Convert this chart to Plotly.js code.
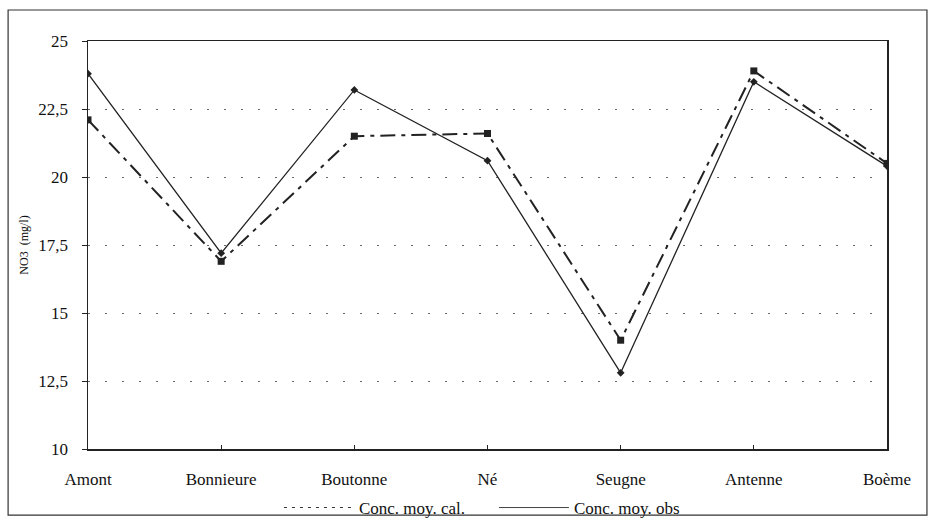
<!DOCTYPE html>
<html>
<head>
<meta charset="utf-8">
<script src="https://cdn.plot.ly/plotly-3.0.1.min.js"></script>
<style>html,body{margin:0;padding:0;background:#fff;overflow:hidden;width:930px;height:518px;}#chart{width:930px;height:540px;}</style>
</head>
<body>
<div id="chart"></div>
<script>
const categories = ["Amont", "Bonnieure", "Boutonne", "Né", "Seugne", "Antenne", "Boème"];
const concCal = [22.1, 16.9, 21.5, 21.6, 14.0, 23.9, 20.5];
const concObs = [23.8, 17.2, 23.2, 20.6, 12.8, 23.5, 20.4];
const yTicks = [10, 12.5, 15, 17.5, 20, 22.5, 25];
const seriesNames = ["Conc. moy. cal.", "Conc. moy. obs"];

const serif = "'Liberation Serif', 'Times New Roman', serif";

const traces = [
  {
    x: categories, y: concCal, name: seriesNames[0], showlegend: false,
    type: "scatter", mode: "lines+markers",
    line: {color: "#222", width: 2, dash: "15px,6px,4px,6px"},
    marker: {symbol: "square", size: 7, color: "#222"}
  },
  {
    x: categories, y: concObs, name: seriesNames[1], showlegend: false,
    type: "scatter", mode: "lines+markers",
    line: {color: "#222", width: 1.3, dash: "solid"},
    marker: {symbol: "diamond", size: 6, color: "#222"}
  },
  // legend keys only (no drawn points), styled like the original legend
  {
    x: [null], y: [null], name: seriesNames[0], type: "scatter", mode: "lines",
    line: {color: "#333", width: 1, dash: "3px,5px"}, hoverinfo: "skip"
  },
  {
    x: [null], y: [null], name: seriesNames[1], type: "scatter", mode: "lines",
    line: {color: "#444", width: 1, dash: "solid"}, hoverinfo: "skip"
  }
];

// The figure is 540 px tall so the bottom legend fits inside the margin;
// the window shows the top 518 px, which is the reference's frame.
const layout = {
  width: 930, height: 540,
  margin: {l: 88, r: 43, t: 41, b: 91},
  paper_bgcolor: "#fff", plot_bgcolor: "#fff",
  separators: ", ",
  font: {family: serif, size: 17, color: "#111"},
  showlegend: true,
  legend: {orientation: "h", x: 0.239, xanchor: "left", y: -0.1446, yanchor: "middle",
           font: {family: serif, size: 17}, bgcolor: "rgba(0,0,0,0)",
           itemwidth: 70, entrywidth: 130, entrywidthmode: "pixels"},
  xaxis: {
    type: "category", range: [0, 6], showgrid: false,
    showline: true, linecolor: "#222", linewidth: 1.5, mirror: true,
    ticks: "inside", ticklen: 4, tickcolor: "#222",
    tickfont: {family: serif, size: 17}, zeroline: false,
    ticklabelstandoff: 14, automargin: false
  },
  yaxis: {
    range: [10, 25], tickvals: yTicks, showgrid: true,
    gridcolor: "#666", griddash: "2px,15px", gridwidth: 1,
    showline: true, linecolor: "#222", linewidth: 1.5, mirror: true,
    ticks: "outside", ticklen: 5, tickcolor: "#222",
    tickfont: {family: serif, size: 17}, zeroline: false,
    ticklabelstandoff: 10, automargin: false,
    title: {text: "NO3  (mg/l)", font: {family: serif, size: 12}, standoff: 7}
  },
  shapes: [
    {type: "rect", xref: "paper", yref: "paper", x0: -0.1, x1: 1.05, y0: -0.162, y1: 1.076,
     line: {color: "#333", width: 1.2}, fillcolor: "rgba(0,0,0,0)", layer: "below"}
  ]
};

Plotly.newPlot("chart", traces, layout, {displayModeBar: false, staticPlot: true});
</script>
</body>
</html>
